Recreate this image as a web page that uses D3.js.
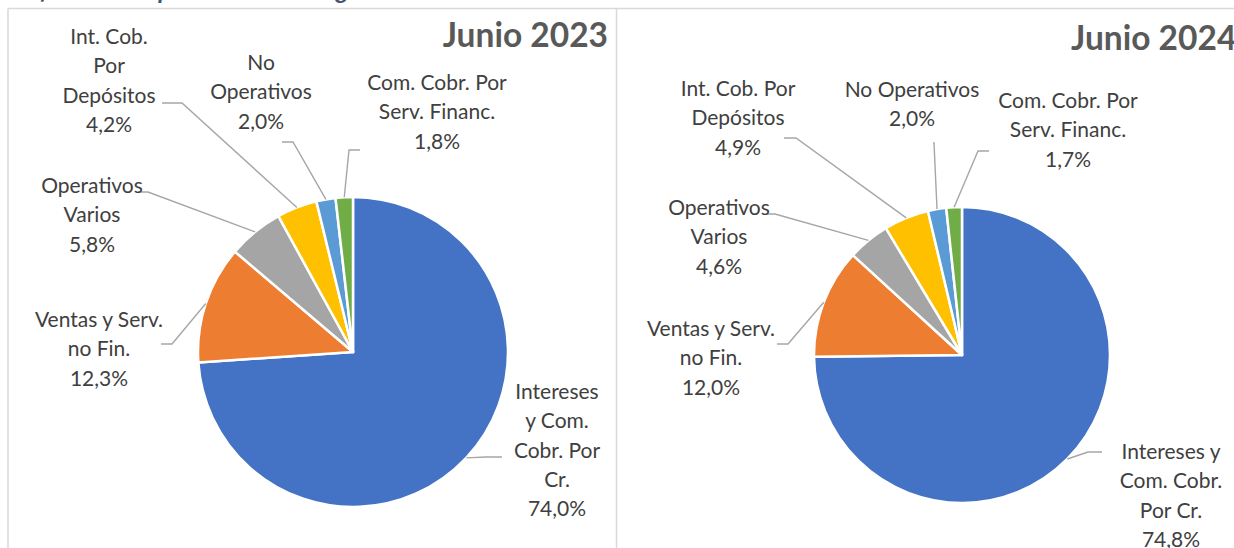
<!DOCTYPE html>
<html>
<head>
<meta charset="utf-8">
<script src="https://cdn.jsdelivr.net/npm/d3@7"></script>
<style>
  html, body { margin: 0; padding: 0; background: #ffffff; }
  svg { display: block; }
</style>
</head>
<body>
<svg id="chart" width="1234" height="548"></svg>
<script>
// ---------- DATA ----------
const categories = [
  "Intereses y Com. Cobr. Por Cr.",
  "Ventas y Serv. no Fin.",
  "Operativos Varios",
  "Int. Cob. Por Depósitos",
  "No Operativos",
  "Com. Cobr. Por Serv. Financ."
];
const values2023 = [74.0, 12.3, 5.8, 4.2, 2.0, 1.8];
const values2024 = [74.8, 12.0, 4.6, 4.9, 2.0, 1.7];
const chartTitles = ["Junio 2023", "Junio 2024"];
const pageTitle = "Gráfico 5: Composición de los ingresos totales";

// ---------- STYLE / LAYOUT ----------
const colors = ["#4472C4", "#ED7D31", "#A5A5A5", "#FFC000", "#5B9BD5", "#70AD47"];
const FONT = "Lato, 'Open Sans', sans-serif";
const LINE_H = 29.3;

const layouts = [
  {
    cx: 353, cy: 352, r: 155,
    title: { x: 608, y: 47 },
    labels: [
      { x: 557, y: 399, words: [1, 2, 2, 1], elbow: [486, 457], end: [502, 457] },
      { x: 99,  y: 327, words: [3, 2],       elbow: [172, 344], end: [161, 344] },
      { x: 92,  y: 193, words: [1, 1],       elbow: [148, 192], end: [138, 192] },
      { x: 109, y: 44,  words: [2, 1, 1],    elbow: [182, 103], end: [162, 103] },
      { x: 261, y: 70,  words: [1, 1],       elbow: [293, 142], end: [282, 142] },
      { x: 437, y: 90,  words: [3, 2],       elbow: [349, 150], end: [360, 150] }
    ]
  },
  {
    cx: 962, cy: 355, r: 148,
    title: { x: 1071, y: 50, anchor: "start" },
    labels: [
      { x: 1171, y: 459, words: [2, 2, 2],   elbow: [1088, 452], end: [1102, 452] },
      { x: 711,  y: 336, words: [3, 2],      elbow: [788, 344],  end: [777, 344] },
      { x: 719,  y: 215, words: [1, 1],      elbow: [775, 214],  end: [767, 214] },
      { x: 738,  y: 96,  words: [3, 1],      elbow: [796, 138],  end: [784, 138] },
      { x: 912,  y: 97,  words: [2],         elbow: [934, 143],  end: [933, 143] },
      { x: 1068, y: 108, words: [3, 2],      elbow: [978, 151],  end: [989, 151] }
    ]
  }
];

const svg = d3.select("#chart");

// page title (cut off at the top in the reference)
svg.append("text")
  .attr("x", 2).attr("y", -1)
  .attr("font-family", FONT)
  .attr("font-style", "italic")
  .attr("font-weight", "bold")
  .attr("font-size", 25)
  .attr("fill", "#44546A")
  .text(pageTitle);

// chart frames
const frame = svg.append("g").attr("fill", "none").attr("stroke", "#D9D9D9").attr("stroke-width", 1.5);
frame.append("line").attr("x1", 8).attr("y1", 8.5).attr("x2", 1234).attr("y2", 8.5);
frame.append("line").attr("x1", 8).attr("y1", 8.5).attr("x2", 8).attr("y2", 548);
frame.append("line").attr("x1", 616.5).attr("y1", 8.5).attr("x2", 616.5).attr("y2", 548);

const fmt = v => d3.format(".1f")(v).replace(".", ",") + "%";

function wrapWords(name, counts) {
  const w = name.split(" ");
  const lines = [];
  let i = 0;
  counts.forEach(c => { lines.push(w.slice(i, i + c).join(" ")); i += c; });
  return lines;
}

[values2023, values2024].forEach((vals, ci) => {
  const L = layouts[ci];
  const pie = d3.pie().sort(null).value(d => d)(vals);
  const arc = d3.arc().innerRadius(0).outerRadius(L.r);

  const g = svg.append("g").attr("transform", `translate(${L.cx},${L.cy})`);
  g.selectAll("path.slice")
    .data(pie)
    .join("path")
    .attr("class", "slice")
    .attr("d", arc)
    .attr("fill", (d, i) => colors[i])
    .attr("stroke", "#ffffff")
    .attr("stroke-width", 2.5)
    .attr("stroke-linejoin", "round");

  // leader lines
  svg.append("g").selectAll("polyline")
    .data(pie)
    .join("polyline")
    .attr("fill", "none")
    .attr("stroke", "#A6A6A6")
    .attr("stroke-width", 1.4)
    .attr("points", (d, i) => {
      const a = (d.startAngle + d.endAngle) / 2;
      const px = L.cx + L.r * Math.sin(a);
      const py = L.cy - L.r * Math.cos(a);
      const lb = L.labels[i];
      return [[px, py], lb.elbow, lb.end].map(p => p.join(",")).join(" ");
    });

  // labels
  const lg = svg.append("g")
    .attr("font-family", FONT)
    .attr("font-size", 21)
    .attr("fill", "#404040")
    .attr("text-anchor", "middle");
  pie.forEach((d, i) => {
    const lb = L.labels[i];
    const lines = wrapWords(categories[i], lb.words).concat([fmt(d.data)]);
    const t = lg.append("text").attr("x", lb.x).attr("y", lb.y);
    lines.forEach((ln, k) => {
      t.append("tspan").attr("x", lb.x).attr("y", lb.y + k * LINE_H).text(ln);
    });
  });

  // chart title
  svg.append("text")
    .attr("x", L.title.x).attr("y", L.title.y)
    .attr("text-anchor", L.title.anchor || "end")
    .attr("font-family", FONT)
    .attr("font-weight", "bold")
    .attr("font-size", 33.5)
    .attr("fill", "#595959")
    .text(chartTitles[ci]);
});
</script>
</body>
</html>
